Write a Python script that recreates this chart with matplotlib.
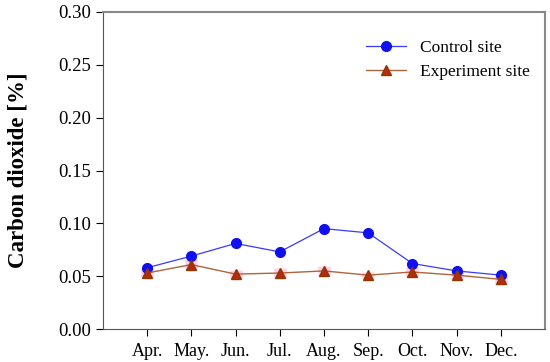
import matplotlib
matplotlib.use("Agg")
import matplotlib.pyplot as plt

months = ["Apr.", "May.", "Jun.", "Jul.", "Aug.", "Sep.", "Oct.", "Nov.", "Dec."]
control = [0.058, 0.069, 0.081, 0.073, 0.095, 0.091, 0.062, 0.055, 0.051]
experiment = [0.053, 0.061, 0.052, 0.053, 0.055, 0.051, 0.054, 0.051, 0.047]
experiment_err = [0.005, 0.005, 0.004, 0.005, 0.005, 0.003, 0.005, 0.004, 0.005]
yticks = [0.00, 0.05, 0.10, 0.15, 0.20, 0.25, 0.30]

plt.rcParams['font.family'] = ['Liberation Serif', 'DejaVu Serif']

fig = plt.figure(figsize=(5.5, 3.62), dpi=100)
ax = fig.add_axes([0.187, 0.091, 0.804, 0.876])

x = list(range(1, len(months) + 1))

ax.errorbar(x, experiment, yerr=experiment_err, fmt='none', ecolor='#ffd0ea',
            elinewidth=9, capsize=0, zorder=1)
ax.plot(x, control, color='#3a3aff', lw=0.9, marker='o', ms=7,
        mfc='#1010ee', mec='#1010ee', label='Control site', zorder=3)
ax.plot(x, experiment, color='#b0643c', lw=1.0, marker='^', ms=6.5,
        mfc='#b82a10', mec='#8a3a00', label='Experiment site', zorder=4)

ax.set_xlim(0, 10)
ax.set_ylim(0, 0.30)
ax.set_xticks(x)
ax.set_xticklabels(months, fontsize=13)
ax.set_yticks(yticks)
ax.set_yticklabels([f"{v:.2f}" for v in yticks], fontsize=13.5)
ax.tick_params(direction='out', length=5, width=0.8)
ax.tick_params(axis='x', pad=5)
ax.set_ylabel("Carbon dioxide [%]", fontsize=16.5, fontweight='bold')
ax.yaxis.set_label_coords(-0.168, 0.5)

for s in ['top', 'right']:
    ax.spines[s].set_color('#888888')
    ax.spines[s].set_linewidth(1.5)
for s in ['left', 'bottom']:
    ax.spines[s].set_color('#555555')

leg = ax.legend(loc='upper right', bbox_to_anchor=(1.0, 0.96), frameon=False,
                fontsize=12.5, handlelength=2.3, labelspacing=0.45)

fig.savefig("out.png", dpi=100)
